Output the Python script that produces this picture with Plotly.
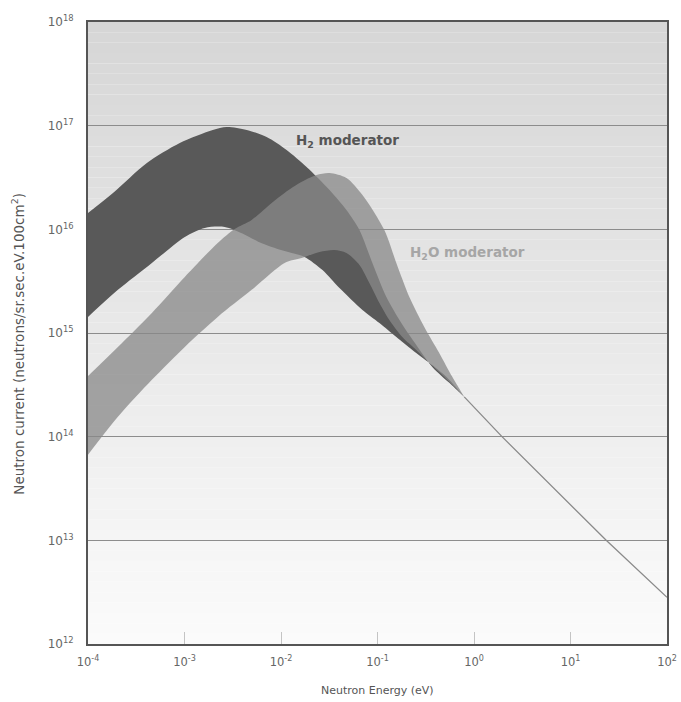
import numpy as np
import plotly.graph_objects as go

# ---- data (log10 of energy in eV, log10 of neutron current) ----
h2_upper_log_energy = [-4.000, -3.741, -3.390, -3.049, -2.707, -2.563, -2.356, -2.149, -1.942, -1.735,
                       -1.497, -1.322, -1.187, -1.053, -0.908, -0.753, -0.598, -0.432, -0.256, -0.101]
h2_upper_log_current = [16.158, 16.351, 16.640, 16.833, 16.959, 16.987, 16.959, 16.891, 16.766, 16.602,
                        16.380, 16.187, 15.994, 15.676, 15.348, 15.097, 14.885, 14.673, 14.519, 14.384]

h2_lower_log_energy = [-4.000, -3.690, -3.338, -2.997, -2.790, -2.583, -2.400, -2.200, -2.000, -1.890,
                       -1.756, -1.570, -1.394, -1.156, -0.980, -0.805, -0.639, -0.463, -0.287, -0.101]
h2_lower_log_current = [15.155, 15.416, 15.676, 15.927, 16.014, 16.023, 15.960, 15.865, 15.800, 15.772,
                        15.734, 15.608, 15.435, 15.223, 15.097, 14.962, 14.837, 14.712, 14.577, 14.384]

h2o_upper_log_energy = [-4.000, -3.690, -3.338, -2.997, -2.656, -2.480, -2.304, -2.097, -1.963, -1.808,
                        -1.632, -1.497, -1.322, -1.156, -0.929, -0.805, -0.670, -0.515, -0.360, -0.225, -0.101]
h2o_upper_log_current = [14.586, 14.866, 15.194, 15.541, 15.869, 16.004, 16.091, 16.255, 16.351, 16.447,
                         16.525, 16.544, 16.496, 16.332, 15.994, 15.676, 15.348, 15.059, 14.808, 14.577, 14.384]

h2o_lower_log_energy = [-4.000, -3.690, -3.338, -2.997, -2.656, -2.304, -1.963, -1.787, -1.601, -1.446,
                        -1.322, -1.187, -1.084, -0.980, -0.877, -0.743, -0.598, -0.463, -0.287, -0.101]
h2o_lower_log_current = [13.825, 14.191, 14.548, 14.866, 15.155, 15.416, 15.676, 15.724, 15.782, 15.801,
                         15.772, 15.657, 15.483, 15.290, 15.126, 14.962, 14.837, 14.712, 14.557, 14.384]

tail_log_energy = [-0.101, 0.29, 1.37, 2.0]
tail_log_current = [14.384, 14.0, 13.0, 12.45]

x_tick_exponents = [-4, -3, -2, -1, 0, 1, 2]
y_tick_exponents = [12, 13, 14, 15, 16, 17, 18]
x_tick_labels = ["10<sup>-4</sup>", "10<sup>-3</sup>", "10<sup>-2</sup>", "10<sup>-1</sup>",
                 "10<sup>0</sup>", "10<sup>1</sup>", "10<sup>2</sup>"]
y_tick_labels = ["10<sup>12</sup>", "10<sup>13</sup>", "10<sup>14</sup>", "10<sup>15</sup>",
                 "10<sup>16</sup>", "10<sup>17</sup>", "10<sup>18</sup>"]

label_h2 = "<b>H<sub>2</sub> moderator</b>"
label_h2o = "<b>H<sub>2</sub>O moderator</b>"
x_title = "Neutron Energy (eV)"
y_title = "Neutron current (neutrons/sr.sec.eV.100cm<sup>2</sup>)"


def band(upper_x, upper_y, lower_x, lower_y):
    xs = list(upper_x) + list(reversed(lower_x))
    ys = list(upper_y) + list(reversed(lower_y))
    return np.power(10.0, xs), np.power(10.0, ys)


fig = go.Figure()

bx, by = band(h2_upper_log_energy, h2_upper_log_current, h2_lower_log_energy, h2_lower_log_current)
fig.add_trace(go.Scatter(x=bx, y=by, mode="lines", fill="toself",
                         fillcolor="rgb(89,89,89)",
                         line=dict(width=0, color="rgb(89,89,89)", shape="spline", smoothing=0.8),
                         hoverinfo="skip", showlegend=False, name="H2"))

bx, by = band(h2o_upper_log_energy, h2o_upper_log_current, h2o_lower_log_energy, h2o_lower_log_current)
fig.add_trace(go.Scatter(x=bx, y=by, mode="lines", fill="toself",
                         fillcolor="rgba(137,137,137,0.76)",
                         line=dict(width=0, color="rgba(137,137,137,0.76)", shape="spline", smoothing=0.8),
                         hoverinfo="skip", showlegend=False, name="H2O"))

fig.add_trace(go.Scatter(x=np.power(10.0, tail_log_energy), y=np.power(10.0, tail_log_current),
                         mode="lines", line=dict(width=1.3, color="#8a8a8a"),
                         hoverinfo="skip", showlegend=False))

# gradient background (styling only)
shapes = []
n = 60
for i in range(n):
    t = i / (n - 1)
    g = int(round(251 - (251 - 214) * t))
    shapes.append(dict(type="rect", xref="x domain", yref="y domain",
                       x0=0, x1=1, y0=i / n, y1=(i + 1) / n,
                       fillcolor=f"rgb({g},{g},{g})", line=dict(width=0), layer="below"))

fig.update_layout(
    width=681, height=702,
    margin=dict(l=88, r=14, t=22, b=58, autoexpand=False),
    paper_bgcolor="white", plot_bgcolor="white",
    shapes=shapes,
    font=dict(family="DejaVu Sans", color="#666666"),
    annotations=[
        dict(x=-1.87, y=16.85, xref="x", yref="y", text=label_h2, showarrow=False,
             xanchor="left", yanchor="middle", font=dict(size=13.5, color="#555555", family="DejaVu Sans")),
        dict(x=-0.68, y=15.77, xref="x", yref="y", text=label_h2o, showarrow=False,
             xanchor="left", yanchor="middle", font=dict(size=13.5, color="#a6a6a6", family="DejaVu Sans")),
        dict(x=0.5, y=-0.074, xref="paper", yref="paper", text=x_title, showarrow=False,
             xanchor="center", yanchor="middle", font=dict(size=11, color="#555555")),
        dict(x=-0.12, y=0.482, xref="paper", yref="paper", text=y_title, showarrow=False,
             textangle=-90, xanchor="center", yanchor="middle", font=dict(size=13.5, color="#555555")),
    ],
)

fig.update_xaxes(type="log", range=[-4, 2], showgrid=False, zeroline=False, automargin=False,
                 tickvals=[10.0 ** e for e in x_tick_exponents], ticktext=x_tick_labels,
                 ticks="inside", ticklen=12, tickcolor="#c4c4c4", tickwidth=1,
                 showline=True, linecolor="#555555", linewidth=2, mirror=True,
                 tickfont=dict(size=11.5, color="#666666"), ticklabelstandoff=6)
fig.update_yaxes(type="log", range=[12, 18], showgrid=True, gridcolor="#8c8c8c", gridwidth=1,
                 zeroline=False, automargin=False,
                 tickvals=[10.0 ** e for e in y_tick_exponents], ticktext=y_tick_labels,
                 ticks="",
                 showline=True, linecolor="#555555", linewidth=2, mirror=True,
                 tickfont=dict(size=12, color="#666666"), ticklabelstandoff=10)

fig.write_html("out.html", config={"displayModeBar": False},
               post_script="document.body.style.margin='0';")
